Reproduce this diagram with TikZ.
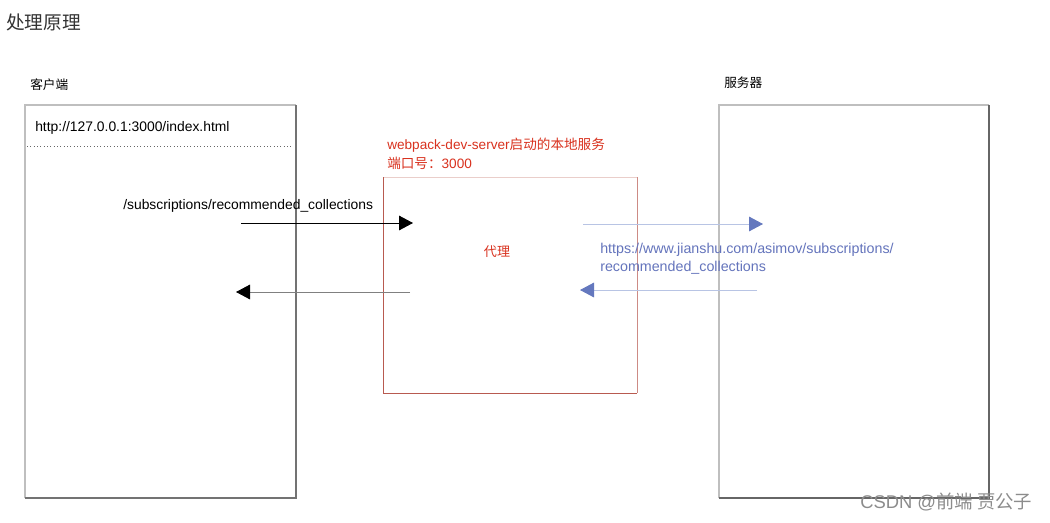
\documentclass[tikz,border=0pt]{standalone}
\usepackage{fontspec}
\setmainfont{Liberation Sans}
\newfontfamily\cjk{Noto Sans CJK SC}
\usetikzlibrary{arrows.meta}
\definecolor{redtxt}{HTML}{D9321F}
\definecolor{bluetxt}{HTML}{6474BC}
\definecolor{bluearr}{HTML}{6478BE}
\definecolor{blueline}{HTML}{B8C4E4}
\definecolor{redbox}{HTML}{B85A50}
\begin{document}
\begin{tikzpicture}[x=0.75pt,y=-0.75pt,
  lbl/.style={inner sep=0pt,anchor=west,font=\fontsize{10.4}{12}\selectfont},
  bigtip/.style={-{Triangle[length=10.5pt,width=11pt]}},
]
\useasboundingbox[fill=white] (0,0) rectangle (1050,522);
% title
\node[lbl,anchor=west,font=\fontsize{14}{16}\selectfont\cjk,text=black!80] (title) at (6,22) {处理原理};
% client
\node[lbl,font=\fontsize{9.5}{11}\selectfont\cjk] (clientlbl) at (30,85) {客户端};
\draw[black!25,line width=0.8pt] (25,498) -- (25,105) -- (296,105);
\draw[black!55,line width=0.8pt] (296,105) -- (296,498) -- (25,498);
\node[lbl] (url) at (35,128) {http://127.0.0.1:3000/index.html};
\draw[black!60,dotted,line width=0.5pt] (27,146) -- (291,146);
\node[lbl] (path) at (123,206) {/subscriptions/recommended\_collections};
% server
\node[lbl,font=\fontsize{9.5}{11}\selectfont\cjk] (serverlbl) at (724,83) {服务器};
\draw[black!25,line width=0.8pt] (719,498) -- (719,105) -- (989,105);
\draw[black!60,line width=0.8pt] (989,105) -- (989,498) -- (719,498);
% proxy box
\draw[redbox!30,line width=0.7pt] (383,177) -- (637,177);
\draw[redbox,line width=0.7pt] (383,177) -- (383,393) -- (637,393);
\draw[redbox!70,line width=0.7pt] (637,177) -- (637,393);
\node[lbl,text=redtxt,font=\fontsize{10.2}{12}\selectfont] (wds) at (387,145) {webpack-dev-server{\cjk 启动的本地服务}};
\node[lbl,text=redtxt,font=\fontsize{10.2}{12}\selectfont] (port) at (387,163) {{\cjk 端口号：}3000};
\node[inner sep=0pt,font=\fontsize{9.8}{11}\selectfont\cjk,text=redtxt] (proxy) at (497,252) {代理};
% arrows client <-> proxy
\coordinate (a1s) at (241,223); \coordinate (a1e) at (413,223);
\draw[black,line width=0.7pt,bigtip] (a1s) -- (a1e);
\coordinate (a2s) at (410,292); \coordinate (a2e) at (236,292);
\draw[black!50,line width=0.7pt,-{Triangle[length=10.5pt,width=11pt,color=black]}] (a2s) -- (a2e);
% arrows proxy <-> server
\coordinate (b1s) at (583,224); \coordinate (b1e) at (763,224);
\draw[blueline,line width=0.7pt,-{Triangle[length=10.5pt,width=11pt,color=bluearr]}] (b1s) -- (b1e);
\coordinate (b2s) at (757,290); \coordinate (b2e) at (580,290);
\draw[blueline,line width=0.7pt,-{Triangle[length=10.5pt,width=11pt,color=bluearr]}] (b2s) -- (b2e);
\node[lbl,text=bluetxt,font=\fontsize{10.7}{12}\selectfont] (remote1) at (600,250) {https://www.jianshu.com/asimov/subscriptions/};
\node[lbl,text=bluetxt,font=\fontsize{10.7}{12}\selectfont] (remote2) at (600,268) {recommended\_collections};
% watermark
\node[lbl,font=\fontsize{13.8}{15}\selectfont,text=black!45] (wm) at (860,502) {CSDN @{\cjk 前端 贾公子}};
\end{tikzpicture}
\end{document}
